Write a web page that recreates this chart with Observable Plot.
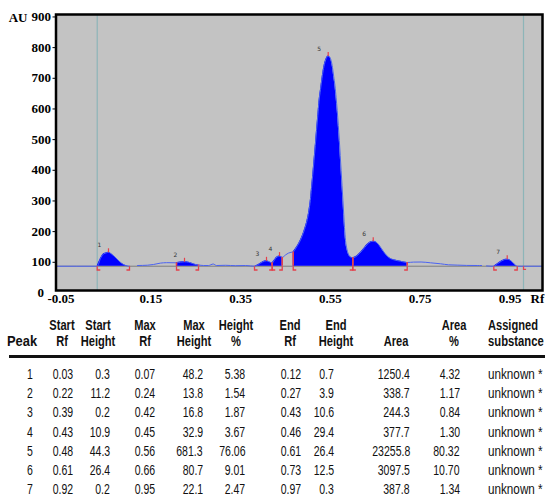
<!DOCTYPE html>
<html><head><meta charset="utf-8">
<script src="https://cdn.jsdelivr.net/npm/d3@7"></script>
<script src="https://cdn.jsdelivr.net/npm/@observablehq/plot@0.6"></script>
<style>
html,body{margin:0;padding:0;background:#fff;overflow:hidden;}
#page{position:relative;width:545px;height:498px;overflow:hidden;background:#fff;}
#chart svg{display:block;}
#tbl{position:absolute;left:0;top:0;width:545px;height:498px;}
.c{position:absolute;white-space:nowrap;line-height:18px;height:18px;font-family:"Liberation Sans",Arial,sans-serif;font-size:15px;color:#111;}
.h{font-weight:bold;}
.rule{position:absolute;left:9px;right:0;top:355.4px;height:2.7px;background:#111;}
</style></head><body>
<div id="page"><div id="chart"></div><div id="tbl"></div></div>
<script>
// ---- chart data ----
const xTicks = [-0.05, 0.15, 0.35, 0.55, 0.75, 0.95];
const yTicks = [100, 200, 300, 400, 500, 600, 700, 800, 900];
const baselineAU = 87.2;
const frontRf = [0.0418, 0.9912];
const traceRf = [
  -0.05, 0.0418,
  0.0491, 0.0558, 0.0625, 0.0669, 0.0736, 0.0825, 0.0914, 0.1003, 0.1092, 0.1137,
  0.1226,
  0.1315, 0.1538, 0.1671, 0.1827, 0.1961, 0.2184,
  0.2273, 0.2362, 0.2451, 0.2540, 0.2629, 0.2674,
  0.2785, 0.2896, 0.3001, 0.3075, 0.3275, 0.3498, 0.3720, 0.3832, 0.3921,
  0.4010, 0.4099, 0.4188, 0.4255, 0.4315,
  0.4366, 0.4422, 0.4478, 0.4538,
  0.4611, 0.4678, 0.4734, 0.4783,
  0.4845, 0.4912, 0.4979, 0.5034, 0.5086, 0.5130, 0.5164, 0.5190, 0.5217, 0.5246,
  0.5275, 0.5302, 0.5331, 0.5357, 0.5391, 0.5424, 0.5458, 0.5498, 0.5536, 0.5562,
  0.5596, 0.5627, 0.5658, 0.5685, 0.5712, 0.5738, 0.5763, 0.5787, 0.5810, 0.5830,
  0.5850, 0.5870, 0.5890, 0.5908, 0.5925, 0.5948, 0.5981, 0.6021, 0.6066, 0.6110,
  0.6208, 0.6320, 0.6431, 0.6505, 0.6565, 0.6627, 0.6689, 0.6801, 0.6912, 0.7023, 0.7173, 0.7322,
  0.7462, 0.7631, 0.7841, 0.8064, 0.8242, 0.8435, 0.8643, 0.8881, 0.8977, 0.9021, 0.9088, 0.9251,
  0.9333, 0.9422, 0.9489, 0.9549, 0.9611, 0.9667, 0.9734, 0.9772,
  0.9912, 1.0335
];
const traceAU = [
  87.2, 87.2,
  112.3, 127.0, 130.9, 132.6, 127.0, 115.6, 102.6, 92.8, 87.9, 87.2,
  null,
  89.5, 90.5, 92.8, 97.3, 98.7, 98.3,
  100.6, 101.6, 100.3, 96.0, 92.1, 91.2,
  89.5, 89.5, 94.4, 89.5, 90.2, 88.9, 89.5, 88.2, 87.2,
  92.8, 100.9, 104.8, 101.3, 97.3,
  107.5, 117.2, 120.2, 115.9,
  123.8, 130.0, 132.6, 133.5,
  146.6, 162.9, 184.1, 206.9, 233.0, 265.6, 301.5, 340.6, 383.0, 431.9,
  480.8, 529.7, 578.7, 624.3, 663.4, 699.3, 731.9, 756.3, 769.4, 772.7,
  769.4, 758.0, 735.1, 705.8, 676.5, 637.4, 595.0, 546.0, 497.1, 448.2,
  399.3, 350.4, 301.5, 255.8, 213.4, 171.0, 141.7, 123.8, 116.3, 114.6,
  121.5, 138.4, 158.0, 166.8, 168.8, 166.2, 157.0, 133.5, 115.6, 108.1, 103.5, 99.3,
  100.6, 100.9, 98.3, 95.1, 91.8, 90.8, 89.8, 89.5, 89.5, null, 88.2, 87.2,
  95.4, 103.9, 108.8, 110.1, 107.1, 100.0, 90.2, 87.2,
  87.2, 87.2
];
const peakStartRf = [0.0418, 0.2184, 0.3921, 0.4315, 0.4783, 0.6110, 0.9251];
const peakEndRf   = [0.1137, 0.2674, 0.4315, 0.4538, 0.6110, 0.7322, 0.9772];

// ---- table data ----
const peakNo      = [1, 2, 3, 4, 5, 6, 7];
const startRf     = [0.03, 0.22, 0.39, 0.43, 0.48, 0.61, 0.92];
const startHeight = [0.3, 11.2, 0.2, 10.9, 44.3, 26.4, 0.2];
const maxRf       = [0.07, 0.24, 0.42, 0.45, 0.56, 0.66, 0.95];
const maxHeight   = [48.2, 13.8, 16.8, 32.9, 681.3, 80.7, 22.1];
const heightPct   = [5.38, 1.54, 1.87, 3.67, 76.06, 9.01, 2.47];
const endRf       = [0.12, 0.27, 0.43, 0.46, 0.61, 0.73, 0.97];
const endHeight   = [0.7, 3.9, 10.6, 29.4, 26.4, 12.5, 0.3];
const area        = [1250.4, 338.7, 244.3, 377.7, 23255.8, 3097.5, 387.8];
const areaPct     = [4.32, 1.17, 0.84, 1.30, 80.32, 10.70, 1.34];
const substance   = ["unknown *", "unknown *", "unknown *", "unknown *", "unknown *", "unknown *", "unknown *"];

// ---- build chart ----
const trace = traceRf.map((rf, i) => ({rf, au: traceAU[i]}));
const auAt = r => trace.find(d => d.au != null && Math.abs(d.rf - r) < 1e-6).au;
const areaData = [];
const tops = [];
peakNo.forEach((p, i) => {
  const pts = trace.filter(d => d.au != null && d.rf >= peakStartRf[i] - 1e-9 && d.rf <= peakEndRf[i] + 1e-9);
  pts.forEach(d => areaData.push({...d, peak: p}));
  const top = pts.reduce((a, b) => (b.au > a.au ? b : a));
  tops.push({rf: top.rf, au: top.au, peak: p});
});
const startPts = peakStartRf.map(r => ({rf: r, au: auAt(r)}));
const endPts = peakEndRf.map(r => ({rf: r, au: auAt(r)}));
const bounds = startPts.concat(endPts);

const red = "#e4414c";
const sz = size => Math.sqrt(size / Math.PI);
const bracketL = {draw(ctx, size){ const s = sz(size); ctx.moveTo(0, 0); ctx.lineTo(0, s); ctx.lineTo(s * 0.8, s); }};
const bracketR = {draw(ctx, size){ const s = sz(size); ctx.moveTo(0, 0); ctx.lineTo(0, s); ctx.lineTo(-s * 0.8, s); }};
const tickUp   = {draw(ctx, size){ const s = sz(size); ctx.moveTo(0, 0); ctx.lineTo(0, -s); }};

const serif = {fontFamily: "'Liberation Serif','Times New Roman',serif", fontWeight: "bold", fontSize: 13, fill: "#000"};

const chart = Plot.plot({
  width: 545, height: 306,
  marginLeft: 55.5, marginRight: 3, marginTop: 14, marginBottom: 16,
  style: {fontFamily: "'Liberation Serif',serif", fontSize: "13px", fontWeight: "bold", background: "transparent"},
  x: {domain: [-0.05, 1.0335], label: null},
  y: {domain: [8, 908], label: null},
  marks: [
    Plot.frame({fill: "#c3c3c3"}),
    Plot.ruleX(frontRf, {stroke: "#8db5b8", strokeWidth: 1.2}),
    Plot.ruleY([baselineAU], {stroke: "#7d7d7d", strokeWidth: 1}),
    Plot.areaY(areaData, {x: "rf", y1: () => baselineAU, y2: "au", z: "peak", fill: "#0000ff", curve: "monotone-x"}),
    Plot.line(trace, {x: "rf", y: "au", stroke: "#4b63f2", strokeWidth: 1, curve: "monotone-x"}),
    Plot.ruleX(bounds, {x: "rf", y1: () => baselineAU, y2: "au", stroke: red, strokeWidth: 1.6}),
    Plot.dot(startPts, {x: "rf", y: () => baselineAU, symbol: bracketL, r: 3.8, stroke: red, fill: "none", strokeWidth: 1.3}),
    Plot.dot(endPts, {x: "rf", y: () => baselineAU, symbol: bracketR, r: 3.8, stroke: red, fill: "none", strokeWidth: 1.3}),
    Plot.dot([frontRf[1]], {x: d => d, y: () => baselineAU, symbol: bracketL, r: 3.2, stroke: red, fill: "none", strokeWidth: 1.2}),
    Plot.dot(tops, {x: "rf", y: "au", symbol: tickUp, r: 4, stroke: red, fill: "none", strokeWidth: 1.2}),
    Plot.text(tops, {x: "rf", y: "au", text: d => String(d.peak), dx: -9, dy: -7, fontSize: 6, fontWeight: "normal", fontFamily: "'DejaVu Sans',sans-serif", fill: "#333"}),
    Plot.axisY(yTicks, {anchor: "left", tickSize: 3, tickPadding: 2, tickFormat: d => String(d), ...serif}),
    Plot.axisY([0], {anchor: "left", tickSize: 0, tickPadding: 5, dx: -7, tickFormat: d => String(d), ...serif}),
    Plot.axisX(xTicks, {anchor: "bottom", tickSize: 0, tickPadding: 3, dx: 5, tickFormat: d => d.toFixed(2), ...serif}),
    Plot.text(["AU"], {frameAnchor: "top-left", text: d => d, textAnchor: "end", lineAnchor: "middle", dx: -28.5, dy: 3, ...serif}),
    Plot.text(["Rf"], {frameAnchor: "bottom-right", text: d => d, textAnchor: "start", lineAnchor: "top", dx: -12, dy: 3, ...serif}),
    Plot.frame({stroke: "#000", strokeWidth: 2.5})
  ]
});
document.getElementById("chart").appendChild(chart);

// ---- build table ----
const tbl = d3.select("#tbl");
const W = 545;
function cell(text, x, yc, align, bold, s) {
  const el = tbl.append("div").attr("class", "c" + (bold ? " h" : "")).text(text)
    .style("top", (yc - 9) + "px");
  if (align === "right") {
    el.style("right", (W - x) + "px").style("transform-origin", "right center").style("transform", `scaleX(${s})`);
  } else if (align === "center") {
    el.style("left", x + "px").style("transform-origin", "left center").style("transform", `scaleX(${s}) translateX(-50%)`);
  } else {
    el.style("left", x + "px").style("transform-origin", "left center").style("transform", `scaleX(${s})`);
  }
}
const headers = [
  {l1: "", l2: "Peak", x: 21.7, s: 0.86},
  {l1: "Start", l2: "Rf", x: 62},
  {l1: "Start", l2: "Height", x: 98.3},
  {l1: "Max", l2: "Rf", x: 145.3},
  {l1: "Max", l2: "Height", x: 194},
  {l1: "Height", l2: "%", x: 236},
  {l1: "End", l2: "Rf", x: 290},
  {l1: "End", l2: "Height", x: 336},
  {l1: "", l2: "Area", x: 396},
  {l1: "Area", l2: "%", x: 454}
];
headers.forEach(h => {
  const s = h.s || 0.74;
  if (h.l1) cell(h.l1, h.x, 325, "center", true, s);
  cell(h.l2, h.x, 340.5, "center", true, s);
});
cell("Assigned", 487.7, 325, "left", true, 0.74);
cell("substance", 487.7, 340.5, "left", true, 0.75);
tbl.append("div").attr("class", "rule");

const f1 = d3.format(".1f"), f2 = d3.format(".2f");
const cols = [
  {v: peakNo, fmt: d => String(d), x: 29.5, align: "center"},
  {v: startRf, fmt: f2, x: 72.7, align: "right"},
  {v: startHeight, fmt: f1, x: 110, align: "right"},
  {v: maxRf, fmt: f2, x: 155, align: "right"},
  {v: maxHeight, fmt: f1, x: 203, align: "right"},
  {v: heightPct, fmt: f2, x: 245.4, align: "right"},
  {v: endRf, fmt: f2, x: 301.5, align: "right"},
  {v: endHeight, fmt: f1, x: 334, align: "right"},
  {v: area, fmt: f1, x: 410, align: "right"},
  {v: areaPct, fmt: f2, x: 460, align: "right"}
];
peakNo.forEach((p, i) => {
  const yc = 374 + i * 19.22;
  cols.forEach(c => cell(c.fmt(c.v[i]), c.x, yc, c.align, false, 0.7));
  cell(substance[i], 487.7, yc, "left", false, 0.78);
});
</script>
</body></html>
